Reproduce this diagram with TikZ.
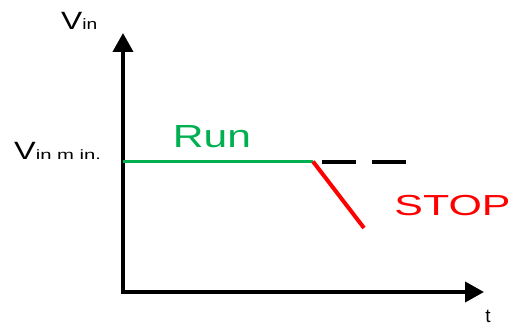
\documentclass[tikz,border=0pt]{standalone}
\usepackage{fontspec}
\setmainfont{Liberation Sans}
\usetikzlibrary{arrows.meta}

\definecolor{rungreen}{RGB}{0,176,80}
\definecolor{stopred}{RGB}{255,0,0}

\begin{document}
\begin{tikzpicture}[x=1pt, y=1pt, >={Triangle[length=19pt, width=20pt]}, text=black]
        \useasboundingbox (0,0) rectangle (515,327);

        % Ejes
        \coordinate (o) at (123,35);
        \coordinate (ytip) at (123,294);
        \coordinate (xtip) at (484,35);
        \draw[->, line width=4pt] (o) -- (ytip);
        \draw[->, line width=4pt] ([xshift=-2pt]o) -- (xtip);

        % Etiquetas de ejes
        \node[anchor=base west, inner sep=0pt] (vin) at (61,297)
            {\scalebox{1.27}[1]{\fontsize{25}{25}\selectfont V}\scalebox{1.28}[1]{\fontsize{15}{15}\selectfont in}};
        \node[anchor=base west, inner sep=0pt] (vmin) at (14,167)
            {\scalebox{1.3}[1]{\fontsize{25}{25}\selectfont V}\scalebox{1.5}[1]{\fontsize{13.5}{13.5}\selectfont in m in.}};
        \node[anchor=base, inner sep=0pt, font=\fontsize{19}{19}\selectfont] (t) at (488,4) {t};

        % Nivel minimo
        \coordinate (vstart) at (123,165.5);
        \coordinate (vend) at (313,165.5);
        \coordinate (dstart) at (322,165);
        \coordinate (dend) at (407,165);
        \coordinate (drop) at (364,99);
        \draw[line width=3pt, rungreen] (vstart) -- (vend);
        \draw[line width=4pt, dash pattern=on 34pt off 16pt] (dstart) -- (dend);
        \draw[line width=4pt, stopred] (vend) -- (drop);

        % Textos
        \node[anchor=base, inner sep=0pt, text=rungreen] (run) at (212,179)
            {\scalebox{1.33}[1]{\fontsize{32}{32}\selectfont Run}};
        \node[anchor=base, inner sep=0pt, text=stopred] (stop) at (452.5,111)
            {\scalebox{1.48}[1]{\fontsize{29}{29}\selectfont STOP}};
\end{tikzpicture}
\end{document}
